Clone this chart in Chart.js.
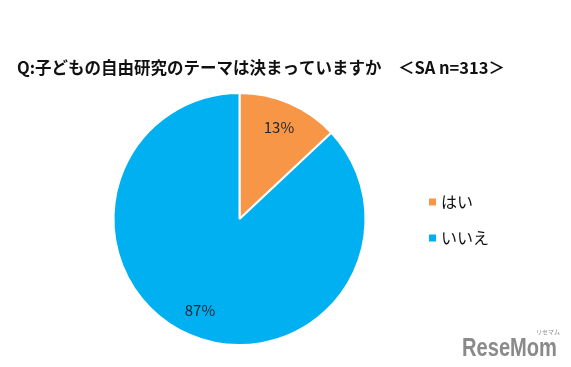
<!DOCTYPE html>
<html><head><meta charset="utf-8">
<script src="https://cdn.jsdelivr.net/npm/chart.js@4.4.0/dist/chart.umd.min.js"></script>
<style>html,body{margin:0;padding:0;background:#fff;}#wrap{width:571px;height:367px;position:relative;}</style>
</head><body><div id="wrap"><canvas id="c" width="571" height="367"></canvas></div>
<script>
const titleText = 'Q:子どもの自由研究のテーマは決まっていますか　＜SA n=313＞';
const categories = ['はい', 'いいえ'];
const values = [13, 87];
const valueLabels = ['13%', '87%'];
const colors = ['#F79646', '#00B0F0'];
const FONT = '"Noto Sans CJK JP", "Noto Sans", sans-serif';

const overlay = {
  id: 'overlay',
  afterDraw(chart) {
    const ctx = chart.ctx;
    ctx.save();
    // title
    ctx.fillStyle = '#111';
    ctx.font = 'bold 16.5px ' + FONT;
    ctx.textBaseline = 'middle';
    ctx.textAlign = 'left';
    ctx.fillText(titleText, 17, 68, 488);
    // value labels
    const meta = chart.getDatasetMeta(0);
    ctx.font = '15px ' + FONT;
    ctx.textAlign = 'center';
    ctx.fillStyle = '#1c2433';
    meta.data.forEach((arc, i) => {
      const p = arc.getProps(['x','y','startAngle','endAngle','outerRadius'], true);
      const mid = (p.startAngle + p.endAngle) / 2;
      const r = p.outerRadius * 0.79;
      ctx.fillText(valueLabels[i], p.x + Math.cos(mid) * r, p.y + Math.sin(mid) * r);
    });
    // legend
    ctx.font = '16px ' + FONT;
    ctx.textAlign = 'left';
    categories.forEach((c, i) => {
      const y = 202 + i * 36;
      ctx.fillStyle = colors[i];
      ctx.fillRect(429, y - 3.5, 7, 7);
      ctx.fillStyle = '#111';
      ctx.fillText(c, 441, y);
    });
    // watermark
    ctx.fillStyle = '#8a8a8a';
    ctx.font = 'bold 25px "Liberation Sans", sans-serif';
    ctx.textBaseline = 'alphabetic';
    ctx.fillText('ReseMom', 462, 356, 95);
    ctx.font = '6px ' + FONT;
    ctx.fillText('リセマム', 536, 334);
    ctx.restore();
  }
};

new Chart(document.getElementById('c'), {
  type: 'pie',
  data: {
    labels: categories,
    datasets: [{ data: values, backgroundColor: colors, borderColor: '#ffffff', borderWidth: 2 }]
  },
  options: {
    responsive: false,
    animation: false,
    layout: { padding: { left: 112, right: 204, top: 92, bottom: 21 } },
    plugins: { legend: { display: false }, title: { display: false }, tooltip: { enabled: false } }
  },
  plugins: [overlay]
});
</script></body></html>
